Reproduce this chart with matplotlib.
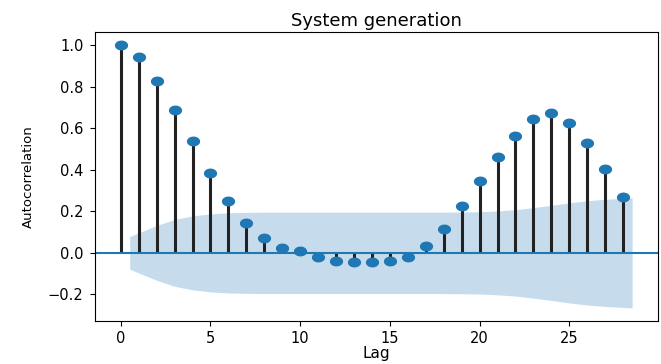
import numpy as np
import matplotlib
matplotlib.use("Agg")
from matplotlib import pyplot as plt
from matplotlib.path import Path

# autocorrelation by lag
lags = list(range(29))
acf_vals = [1.000, 0.942, 0.826, 0.686, 0.540, 0.385, 0.250, 0.142, 0.071, 0.024,
            0.008, -0.018, -0.037, -0.043, -0.044, -0.037, -0.018, 0.032, 0.116, 0.224,
            0.346, 0.462, 0.565, 0.643, 0.675, 0.623, 0.527, 0.406, 0.269]

# half-width of the confidence band for lags 1..28
band = [0.079, 0.132, 0.161, 0.178, 0.188, 0.193, 0.195, 0.196, 0.196, 0.196,
        0.196, 0.196, 0.196, 0.196, 0.196, 0.196, 0.196, 0.196, 0.197, 0.198,
        0.202, 0.208, 0.218, 0.229, 0.241, 0.251, 0.258, 0.265]

# slightly flattened dot marker
t = np.linspace(0, 2 * np.pi, 40)
dot = Path(np.column_stack([np.cos(t), 0.72 * np.sin(t)]), closed=True)

fig = plt.figure(figsize=(6.61, 3.64), dpi=100)
ax = fig.add_axes([0.144, 0.118, 0.851, 0.794])

band_x = np.array(lags[1:], dtype=float)
band_x[0] -= 0.5
band_x[-1] += 0.5
band = np.array(band)
ax.fill_between(band_x, -band, band, color="C0", alpha=0.25, lw=0)

ax.vlines(lags, 0, acf_vals, color="#222222", lw=2.2)
ax.plot(lags, acf_vals, marker=dot, ls="none", color="C0", markersize=8.5)
ax.axhline(0, color="C0", lw=1.5)
ax.margins(0.05)

ax.set_xticks([0, 5, 10, 15, 20, 25])
ax.set_yticks([-0.2, 0.0, 0.2, 0.4, 0.6, 0.8, 1.0])
ax.tick_params(labelsize=10.5)
ax.tick_params(axis="y", pad=5)
ax.set_title("System generation", fontsize=13, pad=4)
ax.set_xlabel("Lag", fontsize=11, labelpad=0)
ax.set_ylabel("Autocorrelation", fontsize=9.5, labelpad=9)

fig.savefig("out.png", dpi=100)
